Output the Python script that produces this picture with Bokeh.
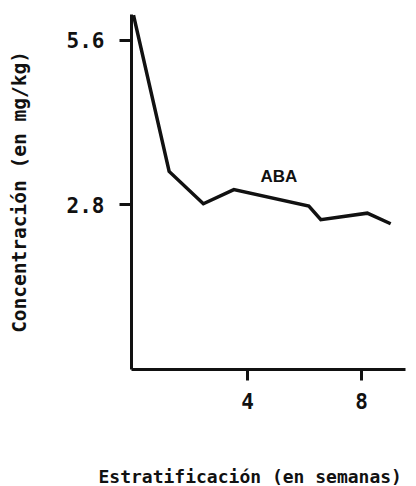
from bokeh.plotting import figure
from bokeh.models import Range1d, FixedTicker, ColumnDataSource, Title
from bokeh.core.properties import value
from bokeh.embed import file_html
from bokeh.resources import INLINE

# Data
weeks = [0.0, 1.25, 2.45, 3.52, 6.15, 6.57, 8.2, 9.02]
aba = [6.03, 3.37, 2.82, 3.06, 2.78, 2.55, 2.66, 2.48]
x_ticks = [4, 8]
y_ticks = [2.8, 5.6]
series_label = "ABA"
label_x = [5.1]
label_y = [3.28]
x_title = "Estratificación (en semanas)"
y_title = "Concentración (en mg/kg)"

FONT = "DejaVu Sans Mono"
INK = "#111111"

p = figure(width=416, height=486, output_backend="svg", toolbar_location=None,
           x_range=Range1d(-0.07, 9.54), y_range=Range1d(0, 6.04),
           min_border_left=131, min_border_right=11, min_border_top=14,
           min_border_bottom=117)
p.outline_line_color = None
p.grid.grid_line_color = None
p.background_fill_color = "white"
p.border_fill_color = "white"

p.line(weeks, aba, line_color=INK, line_width=3.5, line_join="miter")

src = ColumnDataSource(dict(x=label_x, y=label_y, t=[series_label]))
p.text("x", "y", text="t", source=src, text_font=value("Liberation Sans"),
       text_font_style="bold", text_font_size="17px", text_color=INK,
       text_align="center", text_baseline="middle")

for ax in (p.xaxis[0], p.yaxis[0]):
    ax.axis_line_width = 3
    ax.axis_line_color = INK
    ax.major_tick_line_width = 3
    ax.major_tick_line_color = INK
    ax.major_tick_in = 0
    ax.minor_tick_line_color = None
    ax.major_label_text_font = FONT
    ax.major_label_text_font_style = "bold"
    ax.major_label_text_color = INK
    ax.axis_label_text_font = FONT
    ax.axis_label_text_font_style = "bold"
    ax.axis_label_text_color = INK

p.xaxis.ticker = FixedTicker(ticks=x_ticks)
p.yaxis.ticker = FixedTicker(ticks=y_ticks)
p.xaxis.major_label_overrides = {4: "4", 8: "8"}
p.yaxis.major_label_overrides = {2.8: "2.8", 5.6: "5.6"}

p.xaxis.major_tick_out = 11
p.xaxis.major_label_standoff = 12
p.xaxis.major_label_text_font_size = "21px"
# blank axis label only reserves room so the title below sits low
p.xaxis.axis_label = " "
p.xaxis.axis_label_text_font_size = "18px"
p.xaxis.axis_label_standoff = 28

p.yaxis.major_tick_out = 12
p.yaxis.major_label_standoff = 15
p.yaxis.major_label_text_font_size = "21px"
p.yaxis.axis_label = y_title
p.yaxis.axis_label_text_font_size = "19.5px"
p.yaxis.axis_label_standoff = 33

xt = Title(text=x_title, align="left", offset=-33, standoff=0,
           vertical_align="bottom",
           text_font=FONT, text_font_style="bold", text_font_size="18px",
           text_color=INK)
p.add_layout(xt, "below")

open("out.html", "w").write(file_html(p, INLINE))
